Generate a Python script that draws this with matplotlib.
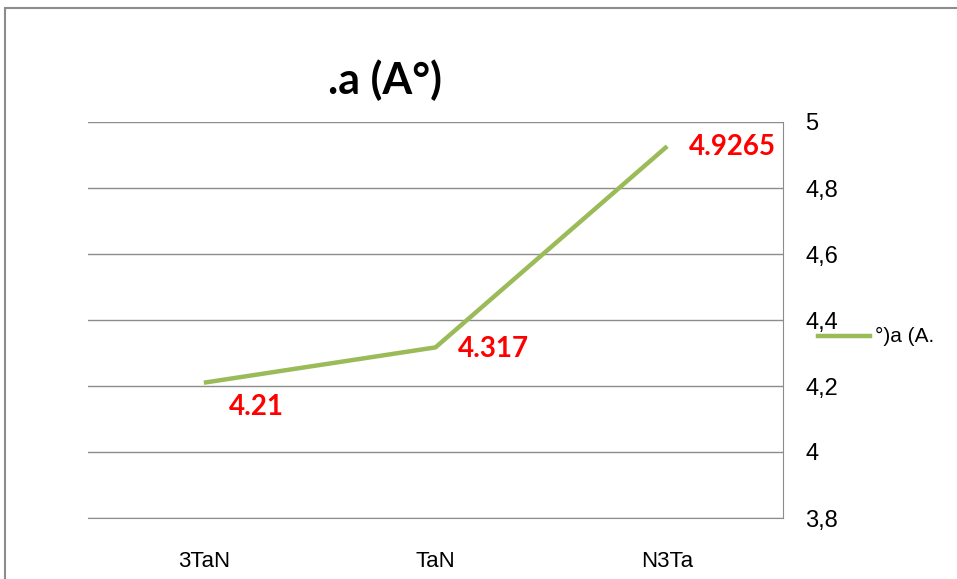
import matplotlib
matplotlib.use("Agg")
import matplotlib.pyplot as plt
from matplotlib.patches import Rectangle
from matplotlib.lines import Line2D

categories = ["3TaN", "TaN", "N3Ta"]
values = [4.21, 4.317, 4.9265]
value_labels = ["4.21", "4.317", "4.9265"]
y_ticks = [3.8, 4.0, 4.2, 4.4, 4.6, 4.8, 5.0]
y_tick_labels = ["3,8", "4", "4,2", "4,4", "4,6", "4,8", "5"]
series_name = "°)a (A."
title = ".a (A°)"

plt.rcParams["font.family"] = ["Liberation Sans", "DejaVu Sans"]
bold_font = ["Lato", "DejaVu Sans"]

fig = plt.figure(figsize=(9.57, 5.79), dpi=100)
fig.patch.set_facecolor("white")

# outer chart frame (only left and top edges fall inside the canvas)
fig.patches.append(Rectangle((5 / 957, -0.1), 1.2, 1 - 8 / 579 + 0.1,
                             transform=fig.transFigure, fill=False,
                             edgecolor="#8c8c8c", linewidth=1.5))

ax = fig.add_axes([88 / 957, 1 - 518 / 579, 695 / 957, 396 / 579])
x = list(range(len(categories)))
line, = ax.plot(x, values, color="#9BBB59", linewidth=3.2, solid_capstyle="butt")

ax.set_xlim(-0.5, len(categories) - 0.5)
ax.set_ylim(3.8, 5.0)
ax.set_xticks(x)
ax.set_xticklabels(categories, fontsize=16)
ax.yaxis.tick_right()
ax.set_yticks(y_ticks)
ax.set_yticklabels(y_tick_labels, fontsize=17)
ax.tick_params(axis="both", length=0)
ax.tick_params(axis="x", pad=24)
ax.tick_params(axis="y", pad=16)
ax.grid(axis="y", color="#8c8c8c", linewidth=1)
ax.set_axisbelow(True)
for s in ["top", "left"]:
    ax.spines[s].set_visible(False)
ax.spines["right"].set_color("#8c8c8c")
ax.spines["bottom"].set_color("#8c8c8c")

offsets = [(25, -24), (22, -2), (22, -1)]
for xi, v, lab, off in zip(x, values, value_labels, offsets):
    ax.annotate(lab, (xi, v), xytext=off, textcoords="offset pixels",
                color="#FF0000", fontsize=20, fontweight="bold",
                family=bold_font, ha="left", va="center")

fig.text(385 / 957, 1 - 80 / 579, title, fontsize=31, fontweight="bold",
         family=bold_font, ha="center", va="center")

# legend entry
fig.add_artist(Line2D([818 / 957, 870 / 957], [1 - 336 / 579, 1 - 336 / 579],
                      transform=fig.transFigure, color="#9BBB59", linewidth=3.2))
fig.text(875 / 957, 1 - 336 / 579, series_name, fontsize=15,
         ha="left", va="center")

fig.savefig("out.png", dpi=100)
